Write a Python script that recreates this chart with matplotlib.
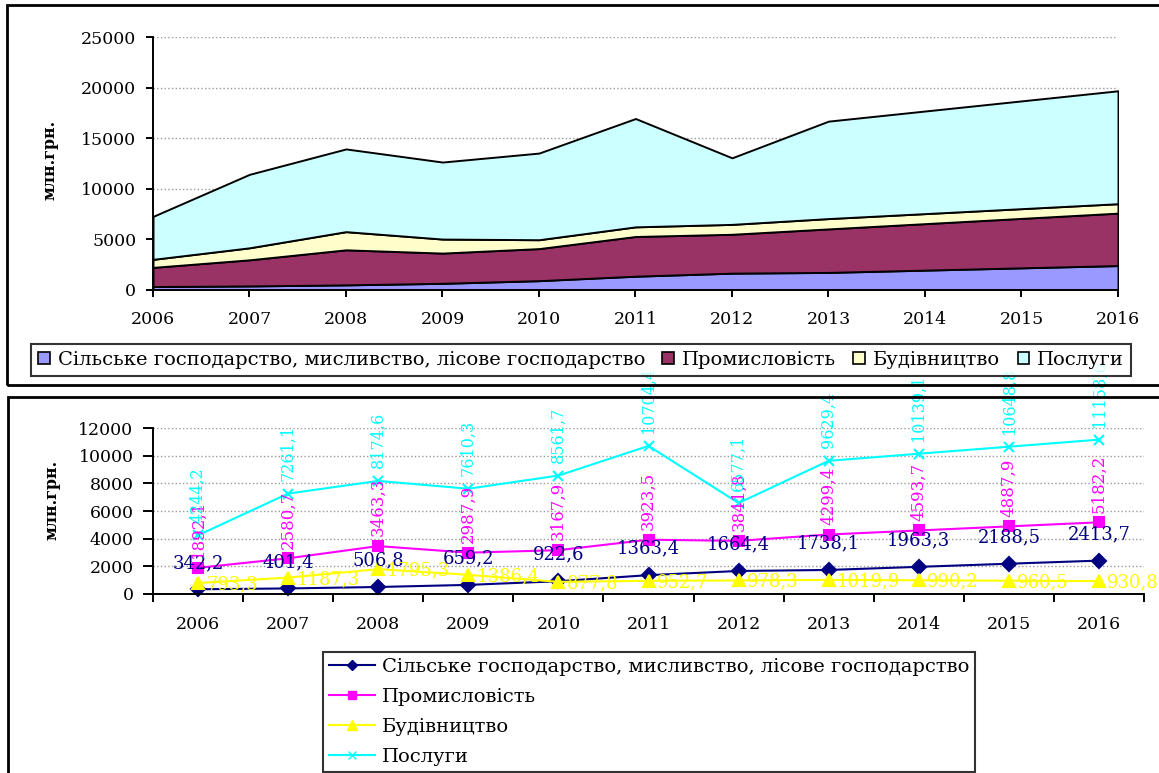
import numpy as np
import matplotlib
matplotlib.use('Agg')
import matplotlib.pyplot as plt
from matplotlib.patches import Rectangle
from matplotlib.lines import Line2D

plt.rcParams['font.family'] = ['DejaVu Serif', 'Liberation Serif']

years = [2006, 2007, 2008, 2009, 2010, 2011, 2012, 2013, 2014, 2015, 2016]
names = ['Сільське господарство, мисливство, лісове господарство',
         'Промисловість', 'Будівництво', 'Послуги']
agri = [342.2, 401.4, 506.8, 659.2, 922.6, 1363.4, 1664.4, 1738.1, 1963.3, 2188.5, 2413.7]
industry = [1892.1, 2580.7, 3463.3, 2987.9, 3167.9, 3923.5, 3841.8, 4299.4, 4593.7, 4887.9, 5182.2]
constr = [793.3, 1187.3, 1795.3, 1386.4, 877.8, 952.7, 978.3, 1019.9, 990.2, 960.5, 930.8]
services = [4244.2, 7261.1, 8174.6, 7610.3, 8561.7, 10704.4, 6577.1, 9629.4, 10139.1, 10648.8, 11158.6]

W, H = 1159, 773
fig = plt.figure(figsize=(W / 100, H / 100), dpi=100)


def box(x0, y0, x1, y1):
    # pixel box -> figure fraction [left, bottom, width, height]
    return [x0 / W, 1 - y1 / H, (x1 - x0) / W, (y1 - y0) / H]


# panel frames
fig.patches.append(Rectangle((7 / W, 1 - 385 / H), 1200 / W, 380 / H, transform=fig.transFigure,
                             fill=False, lw=2, ec='black'))
fig.patches.append(Rectangle((8 / W, 1 - 800 / H), 1200 / W, 403 / H, transform=fig.transFigure,
                             fill=False, lw=2, ec='black'))

# ---------- top: stacked area ----------
area_cols = ['#9999FF', '#993366', '#FFFFCC', '#CCFFFF']
ax1 = fig.add_axes(box(153, 37, 1118, 290))
ax1.stackplot(years, agri, industry, constr, services, colors=area_cols,
              edgecolor='black', linewidth=1.4)
ax1.set_xlim(2006, 2016)
ax1.set_ylim(0, 25000)
ax1.set_yticks(range(0, 25001, 5000))
ax1.set_xticks(years)
ax1.yaxis.grid(True, color='#999999', ls=':', lw=1)
ax1.set_axisbelow(True)
for s in ['top', 'right']:
    ax1.spines[s].set_visible(False)
for s in ['left', 'bottom']:
    ax1.spines[s].set_linewidth(1.4)
ax1.tick_params(labelsize=12.5, direction='out', length=5, width=1.4, pad=7)
ax1.tick_params(axis='x', pad=10)
fig.text(50 / W, 1 - 160 / H, 'млн.грн.', rotation=90, ha='center', va='center',
         fontsize=11.5, fontweight='bold')

handles1 = [Rectangle((0, 0), 1, 1, fc=c, ec='black', lw=1.2) for c in area_cols]
leg1 = fig.legend(handles1, names, loc='center', bbox_to_anchor=(581 / W, 1 - 360 / H),
                  ncol=4, fontsize=14, frameon=True, fancybox=False, handlelength=0.6,
                  handleheight=0.6, handletextpad=0.4, columnspacing=0.9,
                  borderpad=0.35, borderaxespad=0)
leg1.get_frame().set_edgecolor('black')
leg1.get_frame().set_linewidth(1.5)

# ---------- bottom: lines ----------
line_cols = ['#000080', '#FF00FF', '#FFFF00', '#00FFFF']
markers = ['D', 's', '^', 'x']
msizes = [7, 7.5, 9, 7]
ax2 = fig.add_axes(box(153, 428, 1144, 594))
x = np.arange(len(years))
series = [agri, industry, constr, services]
for vals, c, m, ms, nm in zip(series, line_cols, markers, msizes, names):
    ax2.plot(x, vals, color=c, marker=m, ms=ms, lw=1.5, mew=1.5, label=nm, clip_on=False)

fmt = lambda v: ('%.1f' % v).replace('.', ',')
for i in range(len(years)):
    ax2.annotate(fmt(agri[i]), (x[i], agri[i]), xytext=(0, 19), textcoords='offset points',
                 ha='center', va='center', color=line_cols[0], fontsize=13)
    ax2.annotate(fmt(industry[i]), (x[i], industry[i]), xytext=(0, 7), textcoords='offset points',
                 ha='center', va='bottom', rotation=90, color=line_cols[1], fontsize=12)
    ax2.annotate(fmt(services[i]), (x[i], services[i]), xytext=(0, 9), textcoords='offset points',
                 ha='center', va='bottom', rotation=90, color=line_cols[3], fontsize=11.5)
    ax2.annotate(fmt(constr[i]), (x[i], constr[i]), xytext=(6, -1), textcoords='offset points',
                 ha='left', va='center', color=line_cols[2], fontsize=13)

ax2.set_xlim(-0.5, len(years) - 0.5)
ax2.set_ylim(0, 12000)
ax2.set_yticks(range(0, 12001, 2000))
ax2.set_xticks(np.arange(-0.5, len(years), 1.0))
ax2.set_xticklabels([])
ax2.set_xticks(x, minor=True)
ax2.set_xticklabels([str(y) for y in years], minor=True)
ax2.tick_params(axis='x', which='minor', length=0, pad=16, labelsize=12.5)
ax2.tick_params(axis='x', which='major', direction='out', length=6, width=1.4)
ax2.tick_params(axis='y', labelsize=12.5, direction='out', length=7, width=1.4, pad=7)
ax2.yaxis.grid(True, color='#999999', ls=':', lw=1)
ax2.set_axisbelow(True)
for s in ['top', 'right']:
    ax2.spines[s].set_visible(False)
for s in ['left', 'bottom']:
    ax2.spines[s].set_linewidth(1.4)
fig.text(52 / W, 1 - 500 / H, 'млн.грн.', rotation=90, ha='center', va='center',
         fontsize=11.5, fontweight='bold')

handles2 = [Line2D([0], [0], color=c, marker=m, ms=ms * 0.8, lw=1.5)
            for c, m, ms in zip(line_cols, markers, msizes)]
leg2 = fig.legend(handles2, names, loc='center', bbox_to_anchor=(649 / W, 1 - 712 / H),
                  ncol=1, fontsize=14, frameon=True, fancybox=False, handlelength=2.4,
                  handletextpad=0.35, labelspacing=0.62, borderpad=0.3, borderaxespad=0)
leg2.get_frame().set_edgecolor('black')
leg2.get_frame().set_linewidth(1.5)

fig.savefig('out.png', dpi=100)
